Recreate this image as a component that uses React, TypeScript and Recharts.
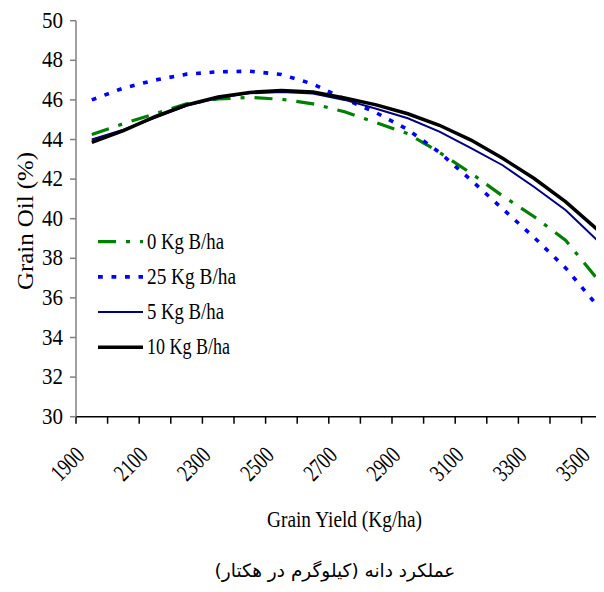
import React from 'react';
import { LineChart, Line, XAxis, YAxis, Legend, Label } from 'recharts';

const yields = [1900, 2000, 2100, 2200, 2300, 2400, 2500, 2600, 2700, 2800, 2900, 3000, 3100, 3200, 3300, 3400, 3500];
const oil0 = [44.25, 44.8, 45.3, 45.8, 46.05, 46.13, 46.03, 45.8, 45.4, 44.85, 44.3, 43.35, 42.3, 41.15, 40.1, 38.9, 36.95];
const oil25 = [46.0, 46.6, 47.0, 47.3, 47.42, 47.45, 47.28, 46.8, 46.05, 45.35, 44.5, 43.35, 41.95, 40.5, 39.05, 37.5, 35.6];
const oil5 = [44.0, 44.5, 45.1, 45.7, 46.1, 46.33, 46.4, 46.32, 46.0, 45.55, 45.07, 44.4, 43.56, 42.7, 41.6, 40.43, 38.9];
const oil10 = [43.85, 44.45, 45.15, 45.75, 46.15, 46.38, 46.48, 46.4, 46.1, 45.75, 45.3, 44.72, 43.97, 43.05, 42.03, 40.85, 39.45];

const yTicks = [30, 32, 34, 36, 38, 40, 42, 44, 46, 48, 50];
// tick marks sit between yield classes; every second class gets a label
const xBounds = [1850, 1950, 2050, 2150, 2250, 2350, 2450, 2550, 2650, 2750, 2850, 2950, 3050, 3150, 3250, 3350, 3450, 3550];
const xLabels = [1900, 2100, 2300, 2500, 2700, 2900, 3100, 3300, 3500];

const series = [
  { key: 'b0', name: '0 Kg B/ha', values: oil0, color: '#008000', width: 3.2, dash: '18 10 4 10', len: 77 },
  { key: 'b25', name: '25 Kg B/ha', values: oil25, color: '#0000FF', width: 3.6, dash: '4.8 8.7', len: 89 },
  { key: 'b5', name: '5 Kg B/ha', values: oil5, color: '#000080', width: 2, dash: undefined, len: 77 },
  { key: 'b10', name: '10 Kg B/ha', values: oil10, color: '#000000', width: 3.5, dash: undefined, len: 83 },
];

const data = yields.map((y, i) => {
  const row: any = { yield: y };
  series.forEach((s) => (row[s.key] = s.values[i]));
  return row;
});

const FONT = '"Liberation Serif", "Times New Roman", serif';

const CHART_W = 620;
const MARGIN = { top: 12.7, right: 14.8, left: 8, bottom: 21.3 };
const Y_W = 60;
const HALF = (CHART_W - MARGIN.left - MARGIN.right - Y_W) / yields.length / 2;

const XTick = ({ x, y, payload }: any) => {
  const label = payload.value + 50;
  if (!xLabels.includes(label)) return null;
  const px = x + HALF - 6;
  const py = y + 33;
  return (
    <text
      x={px}
      y={py}
      transform={`rotate(-45, ${px}, ${py})`}
      textAnchor="end"
      fontFamily={FONT}
      fontSize={24}
      fill="#000"
      stroke="none"
      textLength={36}
      lengthAdjust="spacingAndGlyphs"
    >
      {label}
    </text>
  );
};

const YTick = ({ x, y, payload }: any) => (
  <text
    x={x}
    y={y + 7}
    textAnchor="end"
    fontFamily={FONT}
    fontSize={24}
    fill="#000"
    stroke="none"
    textLength={21}
    lengthAdjust="spacingAndGlyphs"
  >
    {payload.value}
  </text>
);

const renderLegend = () => (
  <svg width={160} height={140}>
    {series.map((s, i) => {
      const cy = 13.7 + 35.2 * i;
      return (
        <g key={s.key}>
          <line x1={0} y1={cy} x2={45} y2={cy} stroke={s.color} strokeWidth={s.width} strokeDasharray={s.dash} />
          <text
            x={49}
            y={cy + 7}
            fontFamily={FONT}
            fontSize={23}
            fill="#000"
            textLength={s.len}
            lengthAdjust="spacingAndGlyphs"
          >
            {s.name}
          </text>
        </g>
      );
    })}
  </svg>
);

export default function App() {
  return (
    <div style={{ position: 'relative', width: 596, height: 576, overflow: 'hidden' }}>
      <LineChart width={CHART_W} height={540} data={data} margin={MARGIN}>
        <XAxis
          dataKey="yield"
          type="number"
          domain={[1850, 3550]}
          ticks={xBounds}
          interval={0}
          tick={<XTick />}
          tickLine={{ stroke: '#000', strokeWidth: 1.5 }}
          tickSize={7}
          tickMargin={0}
          axisLine={{ stroke: '#000', strokeWidth: 1.5 }}
          height={110}
        >
          <Label
            content={() => (
              <text
                x={336.5}
                y={519}
                textAnchor="middle"
                fontFamily={FONT}
                fontSize={23}
                fill="#000"
                textLength={155}
                lengthAdjust="spacingAndGlyphs"
              >
                Grain Yield (Kg/ha)
              </text>
            )}
          />
        </XAxis>
        <YAxis
          type="number"
          domain={[30, 50]}
          ticks={yTicks}
          interval={0}
          width={Y_W}
          tickSize={6}
          tickMargin={7}
          tick={<YTick />}
          tickLine={{ stroke: '#808080', strokeWidth: 1.5 }}
          axisLine={{ stroke: '#808080', strokeWidth: 1.5 }}
        >
          <Label
            content={() => (
              <text
                x={25}
                y={213}
                transform="rotate(-90, 25, 213)"
                textAnchor="middle"
                fontFamily={FONT}
                fontSize={24}
                fill="#000"
                textLength={138}
                lengthAdjust="spacingAndGlyphs"
              >
                Grain Oil (%)
              </text>
            )}
          />
        </YAxis>
        <Legend
          layout="vertical"
          align="center"
          verticalAlign="middle"
          content={renderLegend}
          wrapperStyle={{ left: 90, top: 220, width: 160, height: 140 }}
        />
        {series.map((s) => (
          <Line
            key={s.key}
            dataKey={s.key}
            name={s.name}
            type="linear"
            stroke={s.color}
            strokeWidth={s.width}
            strokeDasharray={s.dash}
            dot={false}
            activeDot={false}
            isAnimationActive={false}
          />
        ))}
      </LineChart>
      <div
        style={{
          position: 'absolute',
          left: 157,
          top: 551,
          width: 340,
          textAlign: 'center',
          direction: 'rtl',
          fontFamily: '"DejaVu Sans", sans-serif',
          fontSize: 18.5,
          lineHeight: '24px',
          color: '#000',
        }}
      >
        عملکرد دانه (کیلوگرم در هکتار)
      </div>
    </div>
  );
}
